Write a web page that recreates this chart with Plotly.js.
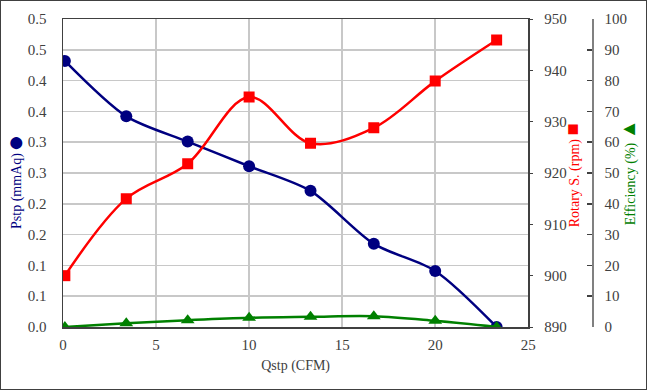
<!DOCTYPE html>
<html>
<head>
<meta charset="utf-8">
<script src="https://cdn.plot.ly/plotly-3.0.1.min.js"></script>
<style>
  html, body { margin: 0; padding: 0; background: #fff; }
  #wrap { width: 647px; height: 390px; box-sizing: border-box; border: 1px solid #404040; }
  #chart { width: 645px; height: 388px; }
</style>
</head>
<body>
<div id="wrap"><div id="chart"></div></div>
<script>
// Data
const qstp = [0.1, 3.4, 6.7, 10.0, 13.3, 16.7, 20.0, 23.3];           // CFM
const pstp = [0.432, 0.342, 0.301, 0.261, 0.221, 0.135, 0.091, 0.0];   // mmAq
const rotary = [900, 915, 921.8, 934.8, 925.8, 928.8, 937.9, 945.9];  // rpm
const efficiency = [0, 1.2, 2.2, 3.0, 3.3, 3.5, 2.0, 0];              // %

const pTickVals = [0, 0.05, 0.1, 0.15, 0.2, 0.25, 0.3, 0.35, 0.4, 0.45, 0.5];
const pTickText = ["0.0", "0.1", "0.1", "0.2", "0.2", "0.3", "0.3", "0.4", "0.4", "0.5", "0.5"];

const FONT = "'Liberation Serif', 'Times New Roman', serif";
const NAVY = "#000080", RED = "#ff0000", GREEN = "#008000";
const TICKC = "#404040";

const traces = [
  {
    x: qstp, y: pstp, yaxis: "y", type: "scatter", mode: "lines+markers",
    line: { color: NAVY, width: 2.5, shape: "spline", smoothing: 0.8 },
    marker: { symbol: "circle", size: 12, color: NAVY },
    name: "Pstp"
  },
  {
    x: qstp, y: rotary, yaxis: "y2", type: "scatter", mode: "lines+markers",
    line: { color: RED, width: 2.5, shape: "spline", smoothing: 1 },
    marker: { symbol: "square", size: 11, color: RED },
    name: "Rotary S."
  },
  {
    x: qstp, y: efficiency, yaxis: "y3", type: "scatter", mode: "lines+markers",
    line: { color: GREEN, width: 2.5, shape: "spline", smoothing: 1 },
    marker: { symbol: "triangle-up", size: 12, color: GREEN },
    name: "Efficiency"
  }
];

const W = 528.7, L = 62, T = 18, H = 308;
const domEnd = 465 / W;
const px = v => (v - 1 - L) / W;        // image x -> paper x
const py = v => 1 - (v - 1 - T) / H;    // image y -> paper y

const layout = {
  width: 645, height: 388,
  margin: { l: L, r: 645 - L - W, t: T, b: 388 - T - H, pad: 0 },
  paper_bgcolor: "#ffffff", plot_bgcolor: "#ffffff",
  showlegend: false,
  font: { family: FONT, size: 15, color: TICKC },
  xaxis: {
    domain: [0, domEnd],
    range: [0, 25], dtick: 5, tick0: 0,
    showgrid: true, gridcolor: "#c8c8c8", gridwidth: 1.5,
    showline: true, linecolor: "#404040", linewidth: 1.5, mirror: true,
    ticks: "", zeroline: false,
    ticklabelstandoff: 3,
    tickfont: { family: FONT, size: 15, color: TICKC },
    title: { text: "Qstp (CFM)", font: { family: FONT, size: 14, color: TICKC }, standoff: 8 }
  },
  yaxis: {
    range: [0, 0.5], tickmode: "array", tickvals: pTickVals, ticktext: pTickText,
    showgrid: true, gridcolor: "#c8c8c8", gridwidth: 1.5,
    showline: true, linecolor: "#404040", linewidth: 1.5, mirror: true,
    ticks: "", zeroline: false,
    ticklabelstandoff: 12,
    tickfont: { family: FONT, size: 15, color: TICKC }
  },
  yaxis2: {
    overlaying: "y", side: "right", anchor: "x",
    range: [890, 950], dtick: 10, tick0: 890,
    showgrid: false, zeroline: false, showline: false,
    ticks: "outside", ticklen: 4, tickcolor: "#404040", tickwidth: 1,
    ticklabelstandoff: 8,
    tickfont: { family: FONT, size: 15, color: TICKC }
  },
  yaxis3: {
    overlaying: "y", side: "right", anchor: "free", position: 1,
    range: [0, 100], dtick: 10, tick0: 0,
    showgrid: false, zeroline: false,
    showline: true, linecolor: "#808080", linewidth: 1.5,
    ticks: "inside", ticklen: 5, tickcolor: "#404040", tickwidth: 1.5,
    ticklabelstandoff: 8,
    tickfont: { family: FONT, size: 15, color: TICKC }
  },
  annotations: [
    {
      text: "Pstp (mmAq)",
      font: { family: FONT, size: 14, color: NAVY },
      xref: "paper", yref: "paper", x: px(17), y: py(191),
      xanchor: "center", yanchor: "middle", textangle: -90, showarrow: false
    },
    {
      text: "●",
      font: { family: FONT, size: 28, color: NAVY },
      xref: "paper", yref: "paper", x: px(17), y: py(141),
      xanchor: "center", yanchor: "middle", showarrow: false
    },
    {
      text: "Rotary S. (rpm) <span style=\"font-size:20px\">■</span>",
      font: { family: FONT, size: 14, color: RED },
      xref: "paper", yref: "paper", x: px(572), y: py(175),
      xanchor: "center", yanchor: "middle", textangle: -90, showarrow: false
    },
    {
      text: "Efficiency (%) <span style=\"font-size:20px\">▲</span>",
      font: { family: FONT, size: 14, color: GREEN },
      xref: "paper", yref: "paper", x: px(628), y: py(172),
      xanchor: "center", yanchor: "middle", textangle: -90, showarrow: false
    }
  ]
};

Plotly.newPlot("chart", traces, layout, { staticPlot: true, displayModeBar: false });
</script>
</body>
</html>
